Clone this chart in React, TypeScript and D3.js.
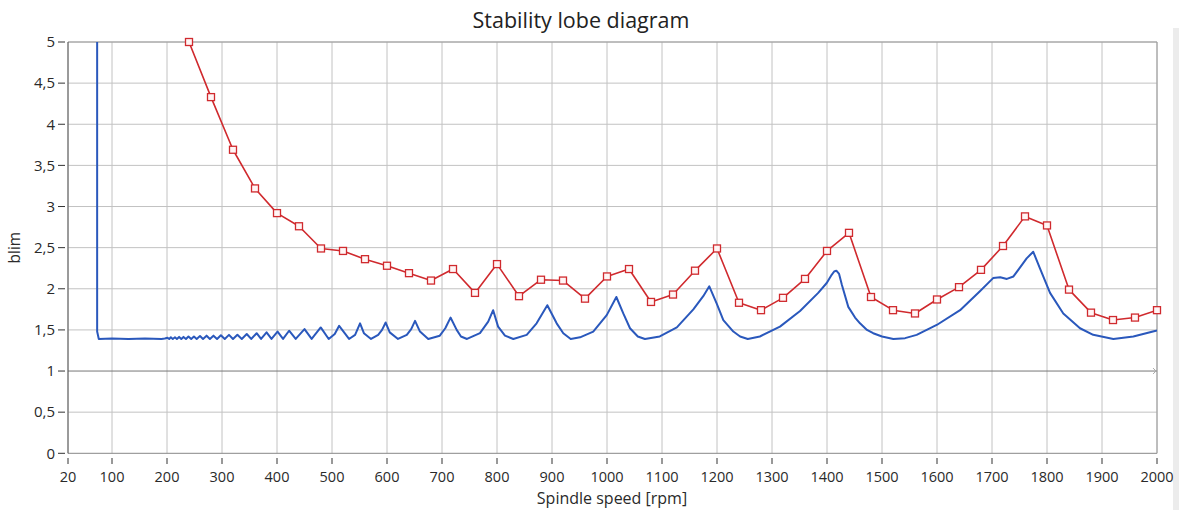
import React from "react";
import * as d3 from "d3";

// Axis ticks
const speedTicks = [20, 100, 200, 300, 400, 500, 600, 700, 800, 900, 1000, 1100, 1200, 1300, 1400, 1500, 1600, 1700, 1800, 1900, 2000];
const blimTicks = [0, 0.5, 1, 1.5, 2, 2.5, 3, 3.5, 4, 4.5, 5];

// Sampled limit (red, with markers)
const sampledSpeed = [240, 280, 320, 360, 400, 440, 480, 520, 560, 600, 640, 680, 720, 760, 800, 840, 880, 920, 960, 1000, 1040, 1080, 1120, 1160, 1200, 1240, 1280, 1320, 1360, 1400, 1440, 1480, 1520, 1560, 1600, 1640, 1680, 1720, 1760, 1800, 1840, 1880, 1920, 1960, 2000];
const sampledBlim = [5.0, 4.33, 3.69, 3.22, 2.92, 2.76, 2.49, 2.46, 2.36, 2.28, 2.19, 2.10, 2.24, 1.95, 2.30, 1.91, 2.11, 2.10, 1.88, 2.15, 2.24, 1.84, 1.93, 2.22, 2.49, 1.83, 1.74, 1.89, 2.12, 2.46, 2.68, 1.90, 1.74, 1.70, 1.87, 2.02, 2.23, 2.52, 2.88, 2.77, 1.99, 1.71, 1.62, 1.65, 1.74];

// Stability lobe curve (blue)
const lobeSpeed = [
  73, 73, 76, 100, 130, 160, 190, 196,
  201, 204, 207, 210.5, 214.5, 218, 222, 226, 230, 234.5, 239, 244, 249, 254, 260, 265.5, 272, 278, 284.5, 291, 298, 305,
  312.7, 320, 328, 336, 345, 353, 363, 371, 381, 390, 401, 411, 422, 434, 450, 463, 479.5, 494, 505, 513, 531, 542,
  551, 558, 571, 584, 591, 597.6, 605, 620, 636, 644, 651, 660, 675, 696, 706, 715.5, 726.7, 734.5, 745.5, 769, 784,
  793, 802, 814.5, 829.6, 854, 872, 891.5, 908.5, 920.5, 934, 951, 975, 999.5, 1017, 1029.6, 1041.8, 1056, 1069,
  1096, 1127, 1157, 1175, 1186, 1199.5, 1211.5, 1229.7, 1242, 1256, 1278, 1314.5, 1351, 1384, 1399.5, 1408.5, 1413,
  1417, 1422, 1427, 1438.7, 1451, 1460, 1472.7, 1484, 1500, 1520.6, 1542, 1563, 1599.5, 1642, 1678, 1702, 1715, 1727,
  1739, 1763, 1775, 1787, 1805.5, 1829.6, 1860, 1884, 1920.6, 1957, 1998, 2000,
];
const lobeBlim = [
  5.3, 1.48, 1.39, 1.395, 1.39, 1.395, 1.39, 1.395,
  1.405, 1.39, 1.41, 1.39, 1.41, 1.39, 1.415, 1.39, 1.415, 1.39, 1.42, 1.39, 1.42, 1.39, 1.425, 1.39, 1.43, 1.39, 1.43, 1.39, 1.435, 1.39,
  1.44, 1.39, 1.44, 1.39, 1.45, 1.39, 1.46, 1.39, 1.47, 1.39, 1.48, 1.39, 1.49, 1.39, 1.51, 1.39, 1.53, 1.39, 1.45, 1.55, 1.39, 1.44,
  1.58, 1.46, 1.39, 1.44, 1.50, 1.59, 1.47, 1.39, 1.44, 1.51, 1.61, 1.48, 1.39, 1.43, 1.52, 1.65, 1.50, 1.42, 1.39, 1.46, 1.60,
  1.74, 1.54, 1.43, 1.39, 1.44, 1.58, 1.80, 1.58, 1.46, 1.39, 1.41, 1.48, 1.68, 1.90, 1.70, 1.52, 1.42, 1.39,
  1.42, 1.53, 1.75, 1.91, 2.03, 1.82, 1.62, 1.48, 1.42, 1.39, 1.42, 1.54, 1.73, 1.95, 2.07, 2.17, 2.21,
  2.22, 2.18, 2.05, 1.78, 1.65, 1.58, 1.50, 1.46, 1.42, 1.39, 1.40, 1.44, 1.56, 1.74, 1.97, 2.13, 2.14, 2.12,
  2.15, 2.37, 2.45, 2.25, 1.95, 1.70, 1.52, 1.44, 1.39, 1.42, 1.49, 1.495,
];

const W = 1179;
const H = 510;
const left = 68;
const right = 1157;
const top = 42;
const bottom = 453.3;

const font = "'Open Sans', 'DejaVu Sans', sans-serif";

export default function App() {
  const x = d3.scaleLinear().domain([20, 2000]).range([left, right]);
  const y = d3.scaleLinear().domain([0, 5]).range([bottom, top]);
  const fmt = (v: number) => String(v).replace(".", ",");

  const lobePts: [number, number][] = lobeSpeed.map((s, i) => [s, lobeBlim[i]]);
  const samplePts: [number, number][] = sampledSpeed.map((s, i) => [s, sampledBlim[i]]);

  const line = d3
    .line<[number, number]>()
    .x((d) => x(d[0]))
    .y((d) => y(d[1]));

  return (
    <svg
      width={W}
      height={H}
      style={{ position: "absolute", left: 0, top: 0, background: "#fff" }}
      fontFamily={font}
    >
      <defs>
        <clipPath id="plot">
          <rect x={left} y={top} width={right - left} height={bottom - top} />
        </clipPath>
      </defs>

      {/* side panel strip */}
      <rect x={1173} y={28} width={6} height={H - 28} fill="#ececec" />

      <text x={581} y={28} textAnchor="middle" fontSize={21.5} fill="#222">
        Stability lobe diagram
      </text>

      {/* grid */}
      {speedTicks.map((t) => (
        <line key={"gx" + t} x1={x(t)} x2={x(t)} y1={top} y2={bottom} stroke="#c2c2c2" strokeWidth={1} />
      ))}
      {blimTicks.map((t) => (
        <line
          key={"gy" + t}
          x1={left}
          x2={right}
          y1={y(t)}
          y2={y(t)}
          stroke={t === 1 ? "#777" : t === 0 ? "#888" : "#c2c2c2"}
          strokeWidth={1}
        />
      ))}
      <line x1={left} x2={right} y1={top} y2={top} stroke="#9a9a9a" />
      <line x1={right} x2={right} y1={top} y2={bottom} stroke="#9a9a9a" />
      <line x1={left} x2={left} y1={top} y2={bottom} stroke="#555" />
      <path d={`M${right - 4},${y(1) - 3} L${right - 1},${y(1)} L${right - 4},${y(1) + 3}`} fill="none" stroke="#aaa" />

      {/* y axis */}
      {blimTicks.map((t) => (
        <g key={"ty" + t}>
          <line x1={58} x2={65} y1={y(t)} y2={y(t)} stroke="#333" />
          <text x={55} y={y(t)} dy="0.35em" textAnchor="end" fontSize={15} fill="#2a2a2a">
            {fmt(t)}
          </text>
        </g>
      ))}
      {/* x axis */}
      {speedTicks.map((t) => (
        <g key={"tx" + t}>
          <line x1={x(t)} x2={x(t)} y1={458} y2={464} stroke="#333" />
          <text x={x(t)} y={482} textAnchor="middle" fontSize={14.5} fill="#2a2a2a">
            {t}
          </text>
        </g>
      ))}

      <text x={612} y={504} textAnchor="middle" fontSize={16} fill="#2a2a2a">
        Spindle speed [rpm]
      </text>
      <text transform={`translate(20,${y(2.5)}) rotate(-90)`} textAnchor="middle" fontSize={15.5} fill="#2a2a2a">
        blim
      </text>

      {/* curves */}
      <g clipPath="url(#plot)">
        <path d={line(lobePts) || ""} fill="none" stroke="#2a58bc" strokeWidth={2} strokeLinejoin="round" />
        <path d={line(samplePts) || ""} fill="none" stroke="#d02a2e" strokeWidth={1.6} strokeLinejoin="round" />
      </g>
      {samplePts.map((d, i) => (
        <rect
          key={"m" + i}
          x={x(d[0]) - 3.5}
          y={y(d[1]) - 3.5}
          width={7}
          height={7}
          fill="#fff5f5"
          stroke="#d02a2e"
          strokeWidth={1.3}
        />
      ))}
    </svg>
  );
}
